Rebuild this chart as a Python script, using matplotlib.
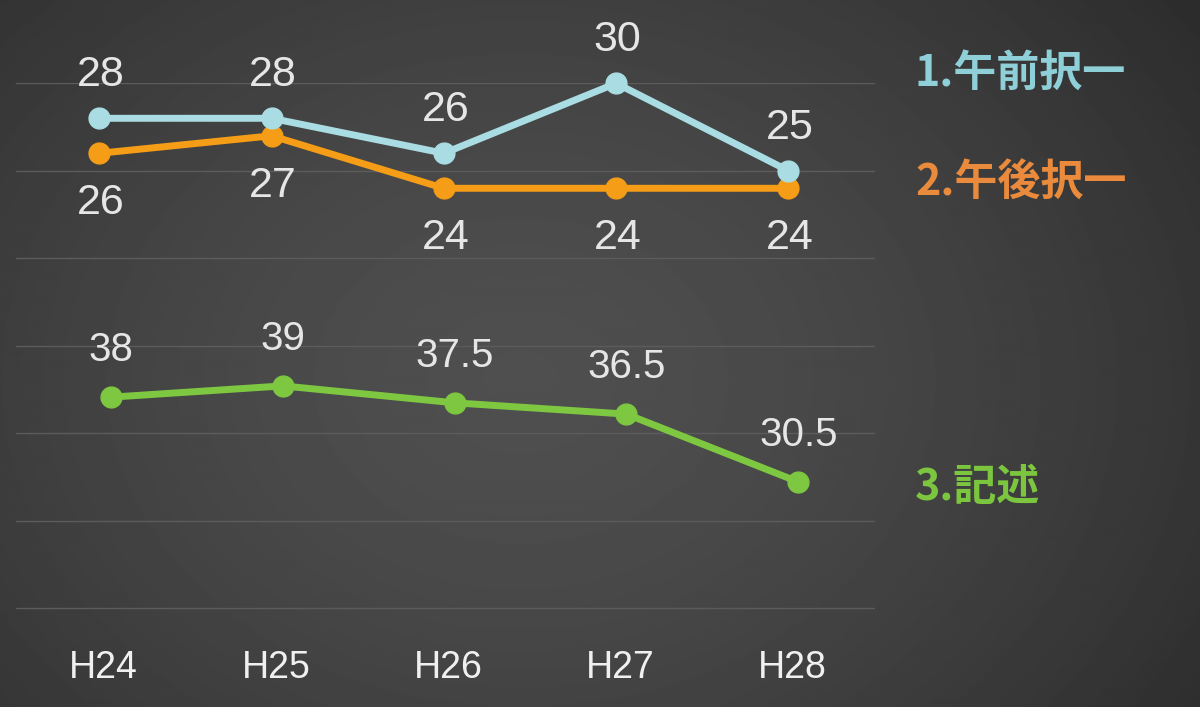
import numpy as np
import matplotlib
matplotlib.use("Agg")
import matplotlib.pyplot as plt

# ---- data ----
years = ["H24", "H25", "H26", "H27", "H28"]
am_choice = [28, 28, 26, 30, 25]        # 1.午前択一
pm_choice = [26, 27, 24, 24, 24]        # 2.午後択一
essay = [38, 39, 37.5, 36.5, 30.5]      # 3.記述
series_names = ["1.午前択一", "2.午後択一", "3.記述"]

W, H = 1200, 707
fig = plt.figure(figsize=(W / 100, H / 100), dpi=100)

# background radial gradient
bg = fig.add_axes([0, 0, 1, 1], zorder=-10)
yy, xx = np.mgrid[0:H:2, 0:W:2]
r = np.sqrt(((xx - 520) / 760.0) ** 2 + ((yy - 380) / 600.0) ** 2)
val = np.clip(0.31 - 0.12 * r ** 1.5, 0.16, 0.31)
bg.imshow(val, cmap="gray", vmin=0, vmax=1, aspect="auto", extent=[0, W, H, 0])
bg.axis("off")

def px2fig(x0, y0, x1, y1):
    return [x0 / W, 1 - y1 / H, (x1 - x0) / W, (y1 - y0) / H]

rect = px2fig(16, 83.3, 875, 610)
ax = fig.add_axes(rect)
ax.patch.set_alpha(0)
x = np.arange(len(years))
ax.set_xlim(-0.483, 4.502)
ax.set_ylim(-0.1, 30)
for s in ax.spines.values():
    s.set_visible(False)
ax.set_yticks([])
for g in range(0, 31, 5):
    ax.axhline(g, color="#5c5c5c", lw=1.0, zorder=0)

label_color = "#e6e6e6"
numfont = "Liberation Sans"

blue = "#a9dde3"
orange = "#f59d17"
green = "#7dc741"

ax.plot(x, am_choice, color=blue, lw=5, marker="o", ms=15, zorder=4, clip_on=False)
ax.plot(x, pm_choice, color=orange, lw=5, marker="o", ms=15, zorder=3, clip_on=False)
for xi, v in zip(x, am_choice):
    ax.annotate(f"{v:g}", (xi, v), xytext=(1, 31), textcoords="offset points",
                ha="center", va="center", color=label_color, fontsize=31, family=numfont)
for xi, v in zip(x, pm_choice):
    ax.annotate(f"{v:g}", (xi, v), xytext=(1, -36), textcoords="offset points",
                ha="center", va="center", color=label_color, fontsize=31, family=numfont)

ax.set_xticks(x + 0.025)
ax.set_xticklabels(years, fontsize=27, color="#f0f0f0", family=numfont)
ax.tick_params(axis="x", length=0, pad=29)

ax2 = fig.add_axes(rect)
ax2.patch.set_alpha(0)
ax2.set_xlim(-0.553, 4.447)
ax2.set_ylim(19.15, 65.8)
ax2.axis("off")
ax2.plot(x, essay, color=green, lw=5, marker="o", ms=15, zorder=3, clip_on=False)
for xi, v in zip(x, essay):
    ax2.annotate(f"{v:g}", (xi, v), xytext=(0, 34), textcoords="offset points",
                 ha="center", va="center", color=label_color, fontsize=29, family=numfont)

cjk = ["Noto Sans CJK JP", "DejaVu Sans"]
fig.text(915 / W, 1 - 73 / H, series_names[0], color="#8fcfd8", fontsize=31,
         fontweight="bold", family=cjk, va="center", ha="left")
fig.text(915 / W, 1 - 183 / H, series_names[1], color="#ea8a3c", fontsize=31,
         fontweight="bold", family=cjk, va="center", ha="left")
fig.text(915 / W, 1 - 487 / H, series_names[2], color="#7cc63f", fontsize=31,
         fontweight="bold", family=cjk, va="center", ha="left")

fig.savefig("out.png", dpi=100)
